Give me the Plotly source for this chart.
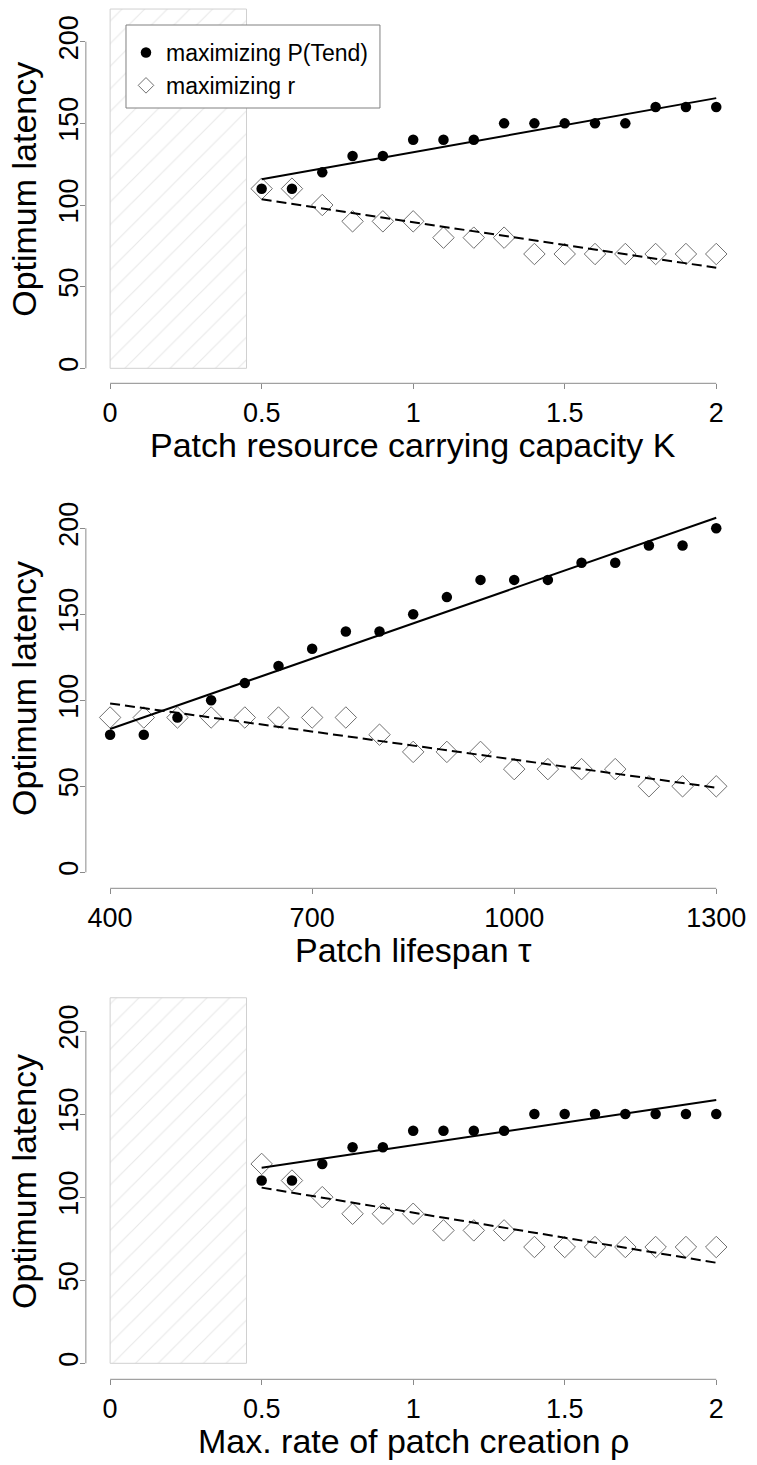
import numpy as np
import plotly.graph_objects as go

# ---- data -------------------------------------------------------------
# Panel 1: patch resource carrying capacity K
K = [0.5, 0.6, 0.7, 0.8, 0.9, 1.0, 1.1, 1.2, 1.3, 1.4, 1.5, 1.6, 1.7, 1.8, 1.9, 2.0]
K_ptend = [110, 110, 120, 130, 130, 140, 140, 140, 150, 150, 150, 150, 150, 160, 160, 160]
K_r = [110, 110, 100, 90, 90, 90, 80, 80, 80, 70, 70, 70, 70, 70, 70, 70]

# Panel 2: patch lifespan tau
tau = [400, 450, 500, 550, 600, 650, 700, 750, 800, 850, 900, 950,
       1000, 1050, 1100, 1150, 1200, 1250, 1300]
tau_ptend = [80, 80, 90, 100, 110, 120, 130, 140, 140, 150, 160, 170,
             170, 170, 180, 180, 190, 190, 200]
tau_r = [90, 90, 90, 90, 90, 90, 90, 90, 80, 70, 70, 70,
         60, 60, 60, 60, 50, 50, 50]

# Panel 3: maximum rate of patch creation rho
rho = [0.5, 0.6, 0.7, 0.8, 0.9, 1.0, 1.1, 1.2, 1.3, 1.4, 1.5, 1.6, 1.7, 1.8, 1.9, 2.0]
rho_ptend = [110, 110, 120, 130, 130, 140, 140, 140, 140, 150, 150, 150, 150, 150, 150, 150]
rho_r = [120, 110, 100, 90, 90, 90, 80, 80, 80, 70, 70, 70, 70, 70, 70, 70]

# Parameter region without viable populations (hatched)
nonviable_x = [0, 0.45]
nonviable_y = [0, 220]

x_ticks_unit = [0, 0.5, 1, 1.5, 2]
x_ticks_tau = [400, 700, 1000, 1300]
y_ticks = [0, 50, 100, 150, 200]

x_titles = ["Patch resource carrying capacity K", "Patch lifespan \u03c4",
            "Max. rate of patch creation \u03c1"]
y_title = "Optimum latency"
legend_names = ["maximizing P(Tend)", "maximizing r"]

# ---- layout geometry (pixels) -----------------------------------------
W, H = 757, 1465
PLOT_L, PLOT_R = 86.56, 746.4
# zero position, px per unit, top and bottom of each plotting region
panels = [
    dict(p0=368.3, s=1.633, top=-5.3, bottom=383.3),
    dict(p0=872.3, s=1.72, top=488.0, bottom=888.3),
    dict(p0=1363.3, s=1.6615, top=983.0, bottom=1379.3),
]
LEGEND_BOX = dict(x0=127, x1=383, y0=25, y1=108)

FONT = "Liberation Sans, Arial, Helvetica, sans-serif"
GREY = "#8a8a8a"
DIAMOND = "#707070"

series = [
    (K, K_ptend, K_r, x_ticks_unit, True),
    (tau, tau_ptend, tau_r, x_ticks_tau, False),
    (rho, rho_ptend, rho_r, x_ticks_unit, True),
]

fig = go.Figure()
shapes = []
annotations = []

for i, (xv, yp, yr, xt, hatched) in enumerate(series):
    n = i + 1
    sx = "" if n == 1 else str(n)
    xref, yref = "x" + sx, "y" + sx
    p = panels[i]

    span = xt[-1] - xt[0]
    xr = [xt[0] - 0.04 * span, xt[-1] + 0.04 * span]
    top_px = max(p["top"], 0)
    yrange = [(p["p0"] - p["bottom"]) / p["s"], (p["p0"] - top_px) / p["s"]]
    ydom = [1 - p["bottom"] / H, 1 - top_px / H]

    if hatched:
        x0, x1 = nonviable_x
        y0, y1 = nonviable_y
        fig.add_trace(go.Scatter(
            x=[x0, x1, x1, x0, x0], y=[y0, y0, y1, y1, y0],
            mode="lines", fill="toself", fillcolor="white",
            fillpattern=dict(shape="/", fgcolor="#d2d2d2", bgcolor="white",
                             size=16, solidity=0.07),
            line=dict(color="#d0d0d0", width=1),
            hoverinfo="skip", showlegend=False, xaxis=xref, yaxis=yref))

    xa = np.array(xv, dtype=float)
    ends = np.array([xa.min(), xa.max()])
    fit_p = np.polyfit(xa, np.array(yp, dtype=float), 1)
    fit_r = np.polyfit(xa, np.array(yr, dtype=float), 1)

    fig.add_trace(go.Scatter(
        x=xv, y=yr, mode="markers",
        marker=dict(symbol="diamond-open", size=16.5, color=DIAMOND,
                    line=dict(width=1, color=DIAMOND)),
        showlegend=False, xaxis=xref, yaxis=yref))
    fig.add_trace(go.Scatter(
        x=xv, y=yp, mode="markers",
        marker=dict(symbol="circle", size=10.5, color="black"),
        showlegend=False, xaxis=xref, yaxis=yref))
    fig.add_trace(go.Scatter(
        x=ends, y=np.polyval(fit_p, ends), mode="lines",
        line=dict(color="black", width=2),
        showlegend=False, hoverinfo="skip", xaxis=xref, yaxis=yref))
    fig.add_trace(go.Scatter(
        x=ends, y=np.polyval(fit_r, ends), mode="lines",
        line=dict(color="black", width=2, dash="10px,5px"),
        showlegend=False, hoverinfo="skip", xaxis=xref, yaxis=yref))

    axis_common = dict(showgrid=False, zeroline=False, showline=False,
                       ticks="outside", ticklen=5, tickwidth=1, tickcolor=GREY,
                       tickfont=dict(family=FONT, size=27, color="black"))
    fig.update_layout({
        "xaxis" + sx: dict(domain=[PLOT_L / W, PLOT_R / W], range=xr,
                           anchor=yref, tickvals=xt,
                           ticktext=[f"{v:g}" for v in xt], **axis_common),
        "yaxis" + sx: dict(domain=ydom, range=yrange, anchor=xref,
                           tickvals=y_ticks, tickangle=-90,
                           ticklabelstandoff=-9, **axis_common),
    })

    # R-style axis lines spanning first to last tick
    shapes.append(dict(type="line", xref=xref + " domain", yref=yref,
                       x0=0, x1=0, y0=y_ticks[0], y1=y_ticks[-1],
                       line=dict(color=GREY, width=1)))
    shapes.append(dict(type="line", xref=xref, yref=yref + " domain",
                       x0=xt[0], x1=xt[-1], y0=0, y1=0,
                       line=dict(color=GREY, width=1)))

    # axis titles
    annotations.append(dict(
        text=x_titles[i], xref="paper", yref="paper",
        x=(PLOT_L + PLOT_R) / 2 / W, y=1 - (p["bottom"] + 62) / H,
        xanchor="center", yanchor="middle", showarrow=False,
        font=dict(family=FONT, size=34, color="black")))
    annotations.append(dict(
        text=y_title, xref="paper", yref="paper", textangle=-90,
        x=24 / W, y=1 - (p["top"] + p["bottom"]) / 2 / H,
        xanchor="center", yanchor="middle", showarrow=False,
        font=dict(family=FONT, size=34, color="black")))

# Legend entries (key only, no data drawn)
fig.add_trace(go.Scatter(
    x=[None], y=[None], mode="markers", name=legend_names[0],
    marker=dict(symbol="circle", size=10.5, color="black"),
    showlegend=True))
fig.add_trace(go.Scatter(
    x=[None], y=[None], mode="markers", name=legend_names[1],
    marker=dict(symbol="diamond-open", size=12, color=DIAMOND,
                line=dict(width=1, color=DIAMOND)),
    showlegend=True))

# Legend frame, drawn over the hatching; the legend itself sits on top
shapes.append(dict(type="rect", xref="paper", yref="paper",
                   x0=LEGEND_BOX["x0"] / W, x1=LEGEND_BOX["x1"] / W,
                   y0=1 - LEGEND_BOX["y1"] / H, y1=1 - LEGEND_BOX["y0"] / H,
                   line=dict(color="#808080", width=1), fillcolor="white",
                   layer="above"))

fig.update_layout(
    width=W, height=H,
    margin=dict(l=0, r=0, t=0, b=0),
    paper_bgcolor="white", plot_bgcolor="white",
    shapes=shapes, annotations=annotations,
    legend=dict(x=127 / W, y=1 - 31 / H, xanchor="left", yanchor="top",
                borderwidth=0, bgcolor="rgba(0,0,0,0)",
                font=dict(family=FONT, size=23, color="black"),
                traceorder="normal", itemwidth=30),
    showlegend=True,
)

fig.write_html("out.html")
